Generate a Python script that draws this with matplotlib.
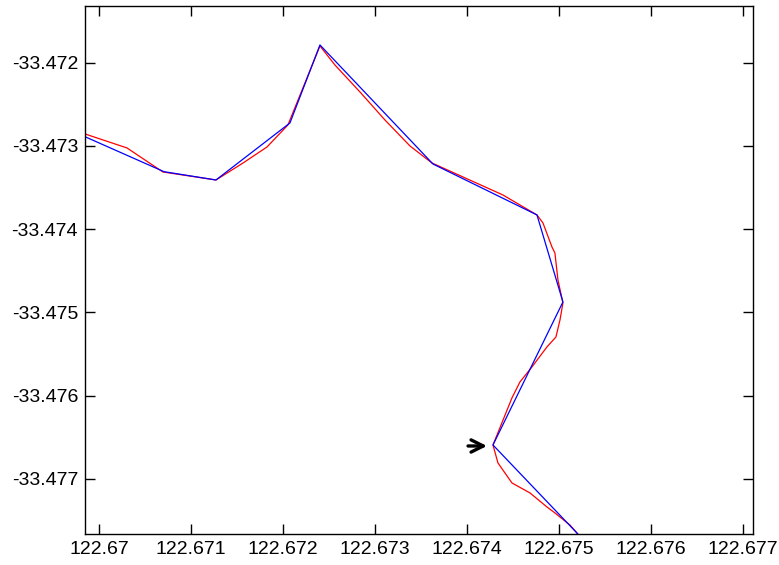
import matplotlib

matplotlib.use("Agg")
import matplotlib.pyplot as plt

# measured track (red) and fitted polyline (blue), lon / lat
red_lon = [122.669739, 122.669848, 122.670304, 122.670695, 122.671271, 122.671565,
           122.671825, 122.672053, 122.672401, 122.672564, 122.672836, 122.673107,
           122.673379, 122.673618, 122.673835, 122.674389, 122.674574, 122.674759,
           122.674824, 122.674922, 122.674954, 122.674987, 122.675041, 122.675009,
           122.674965, 122.674867, 122.674704, 122.674574, 122.674487, 122.674281,
           122.674335, 122.674487, 122.674683, 122.674867, 122.674954, 122.675117,
           122.675193, 122.675248]
red_lat = [-33.472784, -33.472856, -33.473024, -33.473313, -33.473409, -33.473205,
           -33.473013, -33.472748, -33.471799, -33.472028, -33.472352, -33.472688,
           -33.473000, -33.473205, -33.473313, -33.473589, -33.473709, -33.473829,
           -33.473925, -33.474214, -33.474286, -33.474610, -33.474886, -33.475090,
           -33.475295, -33.475415, -33.475655, -33.475835, -33.476027, -33.476592,
           -33.476808, -33.477048, -33.477168, -33.477336, -33.477408, -33.477553,
           -33.477649, -33.477733]

blue_lon = [122.669739, 122.670706, 122.671271, 122.672075, 122.672401, 122.673629,
            122.674759, 122.675041, 122.674281, 122.675193, 122.675259]
blue_lat = [-33.472836, -33.473309, -33.473409, -33.472724, -33.471787, -33.473217,
            -33.473829, -33.474874, -33.476592, -33.477649, -33.477733]

# arrow marking the current point
arrow_tail = (122.674010, -33.476604)
arrow_head = (122.674216, -33.476604)

x_ticks = [122.67, 122.671, 122.672, 122.673, 122.674, 122.675, 122.676, 122.677]
y_ticks = [-33.472, -33.473, -33.474, -33.475, -33.476, -33.477]

plt.rcParams["font.family"] = ["Liberation Sans", "DejaVu Sans"]

fig = plt.figure(figsize=(7.79, 5.65), dpi=100)
ax = fig.add_axes([0.1091, 0.0549, 0.8575, 0.9345])

ax.plot(red_lon, red_lat, color="#ff0000", lw=0.9)
ax.plot(blue_lon, blue_lat, color="#0000ff", lw=0.9)
ax.annotate("", xy=arrow_head, xytext=arrow_tail,
            arrowprops=dict(arrowstyle="->", color="black", lw=2.4,
                            mutation_scale=22, shrinkA=0, shrinkB=0))

ax.set_xlim(122.669848, 122.677106)
ax.set_ylim(-33.477661, -33.471319)
ax.set_xticks(x_ticks)
ax.set_xticklabels([f"{v:g}" for v in x_ticks])
ax.set_yticks(y_ticks)
ax.set_yticklabels([f"{v:g}" for v in y_ticks])
ax.tick_params(direction="in", length=7, width=1, top=True, right=True,
               labelsize=14, pad=5)
for s in ax.spines.values():
    s.set_linewidth(1)

fig.savefig("out.png", dpi=100)
